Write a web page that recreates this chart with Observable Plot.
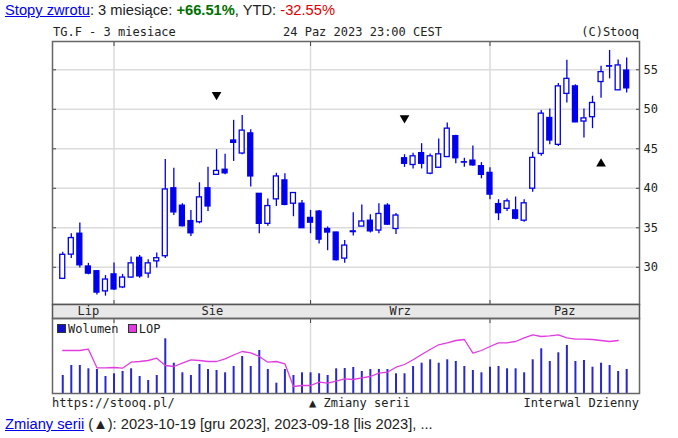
<!DOCTYPE html>
<html><head><meta charset="utf-8">
<script src="https://cdn.jsdelivr.net/npm/d3@7"></script>
<script src="https://cdn.jsdelivr.net/npm/@observablehq/plot@0.6"></script>
<style>
body{margin:0;background:#fff;}
#wrap{position:relative;width:678px;height:438px;overflow:hidden;font-family:"Liberation Sans",Arial,sans-serif;color:#222;}
#wrap svg{position:absolute;left:0;}
.mono{position:absolute;font-family:"DejaVu Sans Mono",monospace;font-size:12px;line-height:14px;color:#222;white-space:pre;}
.sans{position:absolute;font-size:14.7px;line-height:18px;white-space:pre;left:5px;}
a{color:#0000ee;text-decoration:underline;}
.sq{display:inline-block;width:7px;height:7px;border:1px solid #333;vertical-align:0px;margin-right:2px;}
</style></head><body><div id="wrap"></div>
<script>
// ---- data ----
const opens  = [28.54,31.6,34.25,30.1,29.5,26.95,29.1,27.45,28.7,31.2,29.2,30.75,31.4,40.0,37.8,35.85,35.7,40.0,41.7,42.35,46.05,44.4,46.95,39.3,35.5,38.6,41.0,38.05,38.05,36.25,37.05,34.85,34.4,31.1,34.45,35.15,35.9,34.65,37.8,34.85,43.8,42.95,44.45,41.85,42.6,43.95,46.6,43.25,43.5,42.8,41.95,38.0,37.4,37.2,35.9,39.95,44.35,48.9,45.5,51.95,52.9,48.45,49.0,53.45,55.4,52.4,54.9];
const highs  = [31.9,34.25,35.6,30.5,29.6,28.95,30.55,29.1,31.3,31.5,30.95,31.8,43.65,42.55,38.05,37.2,40.7,42.65,44.9,44.3,48.6,49.2,47.4,39.35,38.65,41.9,41.85,39.45,38.45,37.2,37.2,35.1,34.45,33.4,36.9,37.9,36.65,38.05,38.05,36.8,44.25,44.45,45.65,44.35,46.25,48.25,46.7,43.8,45.35,43.25,42.6,38.55,38.65,38.9,38.55,44.55,49.85,50.05,53.25,56.2,53.1,50.05,51.65,55.45,57.45,56.25,56.5];
const lows   = [28.5,31.1,29.9,29.05,26.5,26.35,27.05,27.3,28.6,28.6,28.6,29.9,31.1,36.55,35.1,33.9,35.5,37.05,41.7,41.7,43.4,44.25,40.15,34.25,35.2,37.7,37.8,36.4,34.95,34.25,32.95,32.1,30.8,30.5,33.95,35.15,34.35,34.25,35.3,34.15,42.65,42.45,42.45,41.7,42.6,43.9,43.1,42.65,42.8,41.2,38.55,35.9,37.05,36.0,35.7,39.5,44.05,45.5,45.3,50.8,48.3,46.35,47.55,51.4,53.85,52.4,52.05];
const closes = [31.58,33.7,30.25,29.2,26.8,28.45,27.2,28.7,30.5,28.85,30.5,31.15,39.85,36.95,35.2,34.3,38.85,37.7,42.2,41.9,45.75,47.3,41.5,35.5,37.75,41.5,37.9,39.4,34.95,35.65,33.5,34.4,30.9,32.75,34.55,35.8,34.55,36.75,35.4,36.55,43.1,44.05,43.1,44.05,44.3,47.55,43.8,43.3,42.9,41.7,39.2,36.85,38.35,36.15,38.1,43.85,49.45,46.05,52.9,53.85,48.35,48.85,50.8,54.7,55.45,55.55,52.65];
const volumes = [18,28,28,24.7,24,17,19.7,22,24.7,17,13,18,54.7,30.3,20.7,18,29,24,23,20.7,27,37,27,43,24,10.3,24,18,20.7,20.7,19.7,18,24.7,25,26,22,24,24,24,19.7,19.7,27,30.3,33.7,30.3,33.7,32,27,23,20.7,26.3,27,24.7,24.7,20.7,33.7,44.7,32,40.7,48,32,33,26.3,30.3,28,22,24];
const lop = [43,43,43,44.3,25.7,25.7,26,25.3,31.3,32,33,35.3,28,27,30.3,33.7,33,32,32,34.7,38.5,42,40.7,37,31.3,32,29.7,7,8,8,11.3,10.3,12.3,14.7,14,15.7,17,20.3,21.3,26.3,29,33.7,39,44,48.7,50.7,53,54,40.3,43,47,50.7,50.7,52,55.7,58.7,57,57.7,58.7,55.7,54.3,54.3,54,53,52,53];
const monthLabels = ["Lip","Sie","Wrz","Paz"];
const monthStarts = [0,6,29,50];          // bar index of first session shown in each month
const yTicks = [30,35,40,45,50,55];
const markerBars = [18,40,63];
const markerVals = [51.84,48.9,43.1];
const markerDirs = ["down","down","up"];

// ---- layout ----
const W = 678, ML = 52, MR = 39;
const xDomain = [-1.2, 67.5];
const BLUE = "#0000ee", GRID = "#dcdcdc", EDGE = "#666";
const idx = d3.range(opens.length);
const upIdx = idx.filter(i => closes[i] >= opens[i]);
const dnIdx = idx.filter(i => closes[i] < opens[i]);
const gridStarts = monthStarts.slice(1);
const font = {fontFamily: "DejaVu Sans Mono, monospace", fontSize: "12px", color: "#222", background: "transparent", overflow: "visible"};
const wrap = document.getElementById("wrap");

const price = Plot.plot({
  width: W, height: 268, marginLeft: ML, marginRight: MR, marginTop: 3, marginBottom: 2,
  style: font,
  x: {domain: xDomain, axis: null},
  y: {domain: [25.29, 58.58], axis: null},
  marks: [
    Plot.ruleY(yTicks, {stroke: GRID, strokeWidth: 1.5}),
    Plot.ruleX(gridStarts, {stroke: GRID, strokeWidth: 1.5}),
    Plot.axisX(gridStarts, {anchor: "top", tickSize: -4, tickFormat: () => "", stroke: "#444"}),
    Plot.axisX(gridStarts, {anchor: "bottom", tickSize: -4, tickFormat: () => "", stroke: "#444"}),
    Plot.axisY(yTicks, {anchor: "left", tickSize: -4, tickFormat: () => "", stroke: "#444"}),
    Plot.axisY(yTicks, {anchor: "right", tickSize: -4, tickPadding: 8, stroke: "#444", fill: "#222", fontSize: 12}),
    Plot.ruleX(idx, {x: i => i, y1: i => lows[i], y2: i => highs[i], stroke: BLUE, strokeWidth: 1.3}),
    Plot.rect(upIdx, {x1: i => i - 0.29, x2: i => i + 0.29, y1: i => opens[i], y2: i => closes[i], fill: "white", stroke: BLUE, strokeWidth: 1.3}),
    Plot.rect(dnIdx, {x1: i => i - 0.29, x2: i => i + 0.29, y1: i => opens[i], y2: i => closes[i], fill: BLUE, stroke: BLUE, strokeWidth: 1.3}),
    Plot.dot(markerBars, {x: d => d, y: (d, i) => markerVals[i], symbol: "triangle", r: 3.6, fill: "black", stroke: "none", rotate: (d, i) => markerDirs[i] === "down" ? 180 : 0}),
    Plot.frame({stroke: EDGE, strokeWidth: 1.5})
  ]
});
price.style.top = "38px";
wrap.appendChild(price);

const band = Plot.plot({
  width: W, height: 14, marginLeft: ML, marginRight: MR, marginTop: 0, marginBottom: 0,
  style: font,
  x: {domain: xDomain, axis: null},
  marks: [
    Plot.frame({fill: "#e8e8e8", stroke: "#555", strokeWidth: 1.5}),
    Plot.text(monthLabels, {x: (d, i) => (monthStarts[i] + (i + 1 < monthStarts.length ? monthStarts[i + 1] : xDomain[1])) / 2, text: d => d, fill: "#222", fontSize: 12})
  ]
});
band.style.top = "304px";
wrap.appendChild(band);

const vol = Plot.plot({
  width: W, height: 77, marginLeft: ML, marginRight: MR, marginTop: 1, marginBottom: 1,
  style: font,
  x: {domain: xDomain, axis: null},
  y: {domain: [0, 75], axis: null},
  marks: [
    Plot.ruleX(gridStarts, {stroke: GRID, strokeWidth: 1.5}),
    Plot.axisX(gridStarts, {anchor: "top", tickSize: -4, tickFormat: () => "", stroke: "#444"}),
    Plot.ruleX(volumes, {x: (d, i) => i, y1: 0, y2: d => d, stroke: "#2828cc", strokeWidth: 2}),
    Plot.line(lop, {x: (d, i) => i, y: d => d, stroke: "#e03ce0", strokeWidth: 1.3}),
    Plot.frame({stroke: EDGE, strokeWidth: 1.5})
  ]
});
vol.style.top = "317px";
wrap.appendChild(vol);

// ---- texts ----
function add(cls, html, css) {
  const d = document.createElement("div");
  d.className = cls; d.innerHTML = html; Object.assign(d.style, css); wrap.appendChild(d); return d;
}
add("sans", '<a>Stopy zwrotu</a>: 3 miesiące: <b style="color:#007000">+66.51%</b>, YTD: <span style="color:#e00000">-32.55%</span>', {top: "1px"});
add("mono", "TG.F - 3 miesiace", {left: "53px", top: "25px"});
add("mono", "24 Paz 2023 23:00 CEST", {left: "283px", top: "25px"});
add("mono", "(C)Stooq", {right: "39px", top: "25px"});
add("mono", '<span class="sq" style="background:#1010cc"></span>Wolumen <span class="sq" style="background:#e03ce0;margin-left:2px"></span>LOP', {left: "57px", top: "322px"});
add("mono", "https://stooq.pl/", {left: "52px", top: "396px"});
add("mono", "▲ Zmiany serii", {left: "309px", top: "396px"});
add("mono", "Interwal Dzienny", {right: "39px", top: "396px"});
add("sans", '<a>Zmiany serii</a> (▲): 2023-10-19 [gru 2023], 2023-09-18 [lis 2023], ...', {top: "415px"});
</script></body></html>
